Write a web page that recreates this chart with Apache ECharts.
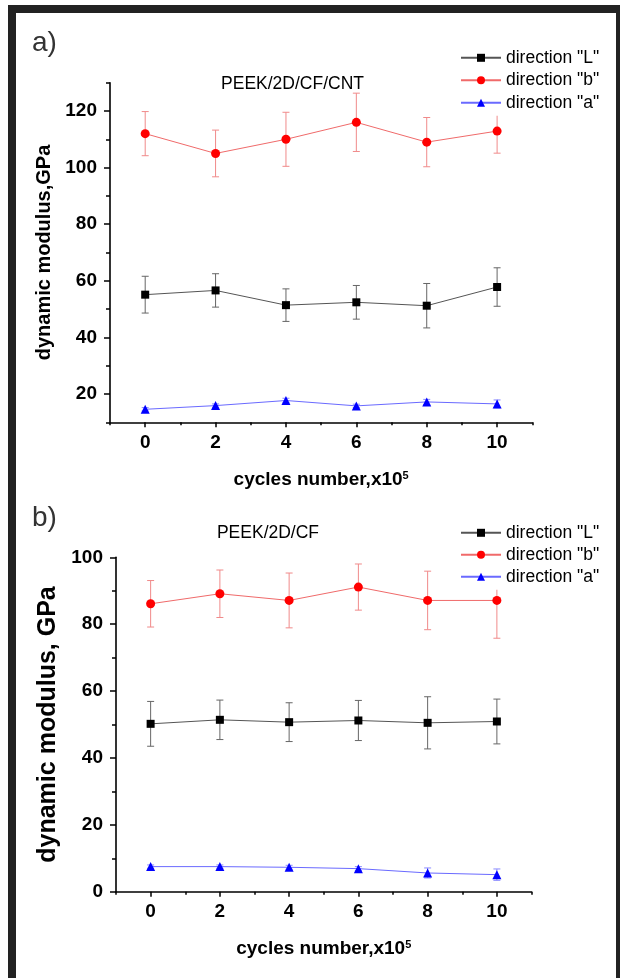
<!DOCTYPE html>
<html><head><meta charset="utf-8">
<script src="https://cdn.jsdelivr.net/npm/echarts@6/dist/echarts.min.js"></script>
<style>html,body{margin:0;padding:0;background:#fff}#c{width:620px;height:978px}</style>
</head><body><div id="c"></div><script>
// ---- data ----
const cycles = [0, 2, 4, 6, 8, 10];
const xTickValues = [0, 2, 4, 6, 8, 10];
const xMinorValues = [-1, 1, 3, 5, 7, 9, 11];
const seriesNames = ['direction "L"', 'direction "b"', 'direction "a"'];

// panel a) PEEK/2D/CF/CNT
const aL = [55.1, 56.6, 51.4, 52.4, 51.2, 57.8];
const aLerr = [6.5, 5.9, 5.75, 5.95, 7.85, 6.8];
const aB = [112.0, 105.0, 110.0, 116.0, 109.0, 112.9];
const aBerr = [7.8, 8.25, 9.55, 10.3, 8.7, 7.8];
const aA = [14.6, 15.9, 17.7, 15.8, 17.2, 16.5];
const aAerr = [0.6, 0.6, 0.8, 0.6, 0.9, 1.4];
const aYTicks = [20, 40, 60, 80, 100, 120];
const aYMinor = [10, 30, 50, 70, 90, 110, 130];

// panel b) PEEK/2D/CF
const bL = [50.2, 51.4, 50.7, 51.2, 50.5, 50.9];
const bLerr = [6.7, 5.9, 5.8, 6.0, 7.8, 6.7];
const bB = [86.1, 89.1, 87.1, 91.1, 87.1, 87.1];
const bBerr = [6.95, 7.1, 8.2, 6.9, 8.75, 11.3];
const bA = [7.5, 7.5, 7.3, 6.9, 5.6, 5.1];
const bAerr = [0.5, 0.5, 0.6, 0.6, 1.5, 1.7];
const bYTicks = [0, 20, 40, 60, 80, 100];
const bYMinor = [10, 30, 50, 70, 90];

const FONT = '"Liberation Sans", Arial, Helvetica, sans-serif';
const chart = echarts.init(document.getElementById('c'), null, {renderer: 'canvas'});

function xAxes(g) {
  return [{
    type: 'value', gridIndex: g, min: -1, max: 11, position: 'bottom',
    axisLine: {onZero: false, lineStyle: {color: '#000', width: 1.6}},
    axisTick: {customValues: xTickValues, length: 5, lineStyle: {color: '#000', width: 1.5}},
    axisLabel: {customValues: xTickValues, margin: 11, fontSize: 19, fontWeight: 'bold', color: '#000', fontFamily: FONT},
    splitLine: {show: false},
    name: 'cycles number,x10{sup|5}', nameLocation: 'middle', nameGap: 48,
    nameTextStyle: {fontSize: 19, fontWeight: 'bold', color: '#000', fontFamily: FONT,
      rich: {sup: {fontSize: 11, fontWeight: 'bold', color: '#000', fontFamily: FONT, verticalAlign: 'top'}}}
  }, {
    type: 'value', gridIndex: g, min: -1, max: 11, position: 'bottom',
    axisLine: {show: false, onZero: false},
    axisTick: {customValues: xMinorValues, length: 3, lineStyle: {color: '#000', width: 1.5}},
    axisLabel: {show: false}, splitLine: {show: false}
  }];
}
function yAxes(g, min, max, ticks, minor, name, gap, fs) {
  return [{
    type: 'value', gridIndex: g, min: min, max: max, position: 'left',
    axisLine: {show: true, onZero: false, lineStyle: {color: '#000', width: 1.6}},
    axisTick: {show: true, customValues: ticks, length: 6, lineStyle: {color: '#000', width: 1.5}},
    axisLabel: {customValues: ticks, margin: 13, fontSize: 19, fontWeight: 'bold', color: '#000', fontFamily: FONT},
    splitLine: {show: false},
    name: name, nameLocation: 'middle', nameRotate: 90, nameGap: gap,
    nameTextStyle: {fontSize: fs, fontWeight: 'bold', color: '#000', fontFamily: FONT}
  }, {
    type: 'value', gridIndex: g, min: min, max: max, position: 'left',
    axisLine: {show: false, onZero: false},
    axisTick: {show: true, customValues: minor, length: 4, lineStyle: {color: '#000', width: 1.5}},
    axisLabel: {show: false}, splitLine: {show: false}
  }];
}

function errRender(color) {
  return function (params, api) {
    const x = api.value(0), lo = api.value(1), hi = api.value(2);
    const p1 = api.coord([x, hi]), p2 = api.coord([x, lo]);
    const w = 3.5;
    const st = {stroke: color, lineWidth: 1};
    return {type: 'group', children: [
      {type: 'line', shape: {x1: p1[0], y1: p1[1], x2: p2[0], y2: p2[1]}, style: st},
      {type: 'line', shape: {x1: p1[0] - w, y1: p1[1], x2: p1[0] + w, y2: p1[1]}, style: st},
      {type: 'line', shape: {x1: p2[0] - w, y1: p2[1], x2: p2[0] + w, y2: p2[1]}, style: st}
    ]};
  };
}

const styles = [
  {line: '#555555', mark: '#000000', err: '#666666', symbol: 'rect', size: 8},
  {line: '#f06a6a', mark: '#ff0000', err: '#f08a8a', symbol: 'circle', size: 9},
  {line: '#6a6aff', mark: '#0000ff', err: '#8a8aff', symbol: 'triangle', size: 9}
];

function panelSeries(xi, yi, vals, errs) {
  const out = [];
  vals.forEach((v, k) => {
    out.push({
      type: 'custom', name: seriesNames[k] + ' err', xAxisIndex: xi, yAxisIndex: yi, z: 2,
      renderItem: errRender(styles[k].err), silent: true,
      encode: {x: 0, y: [1, 2]},
      data: cycles.map((c, i) => [c, v[i] - errs[k][i], v[i] + errs[k][i]])
    });
  });
  vals.forEach((v, k) => {
    out.push({
      type: 'line', name: seriesNames[k], xAxisIndex: xi, yAxisIndex: yi, z: 3,
      symbol: styles[k].symbol, symbolSize: styles[k].size,
      itemStyle: {color: styles[k].mark},
      lineStyle: {color: styles[k].line, width: 1},
      data: cycles.map((c, i) => [c, v[i]])
    });
  });
  return out;
}

function legendAt(top, gap) {
  return {
    orient: 'vertical', left: 455, top: top, padding: [4, 5, 4, 5],
    backgroundColor: '#fff', itemWidth: 40, itemHeight: 10, itemGap: gap,
    data: seriesNames,
    textStyle: {fontSize: 17.5, lineHeight: 17, color: '#000', fontFamily: FONT}
  };
}

const option = {
  animation: false,
  backgroundColor: '#fff',
  grid: [
    {left: 110, top: 82.7, width: 422.3, height: 339.6},
    {left: 116, top: 557.3, width: 415.5, height: 334.4}
  ],
  xAxis: [...xAxes(0), ...xAxes(1)],
  yAxis: [
    ...yAxes(0, 10, 130, aYTicks, aYMinor, 'dynamic modulus,GPa', 50, 20),
    ...yAxes(1, 0, 100, bYTicks, bYMinor, 'dynamic modulus, GPa', 52, 25)
  ],
  legend: [legendAt(44.8, 4.5), legendAt(519.8, 4)],
  series: [
    ...panelSeries(0, 0, [aL, aB, aA], [aLerr, aBerr, aAerr]),
    ...panelSeries(2, 2, [bL, bB, bA], [bLerr, bBerr, bAerr])
  ],
  graphic: [
    {type: 'rect', shape: {x: 12, y: 9, width: 608, height: 1000}, style: {fill: null, stroke: '#222', lineWidth: 8}, z: 100},
    {type: 'text', x: 32, y: 43, style: {text: 'a)', font: '28px ' + FONT, fill: '#333', textVerticalAlign: 'middle'}},
    {type: 'text', x: 32, y: 518, style: {text: 'b)', font: '28px ' + FONT, fill: '#333', textVerticalAlign: 'middle'}},
    {type: 'text', x: 292.5, y: 84, style: {text: 'PEEK/2D/CF/CNT', font: '17.5px ' + FONT, fill: '#000', textAlign: 'center', textVerticalAlign: 'middle'}},
    {type: 'text', x: 268, y: 533, style: {text: 'PEEK/2D/CF', font: '17.5px ' + FONT, fill: '#000', textAlign: 'center', textVerticalAlign: 'middle'}}
  ]
};
chart.setOption(option);
</script></body></html>
